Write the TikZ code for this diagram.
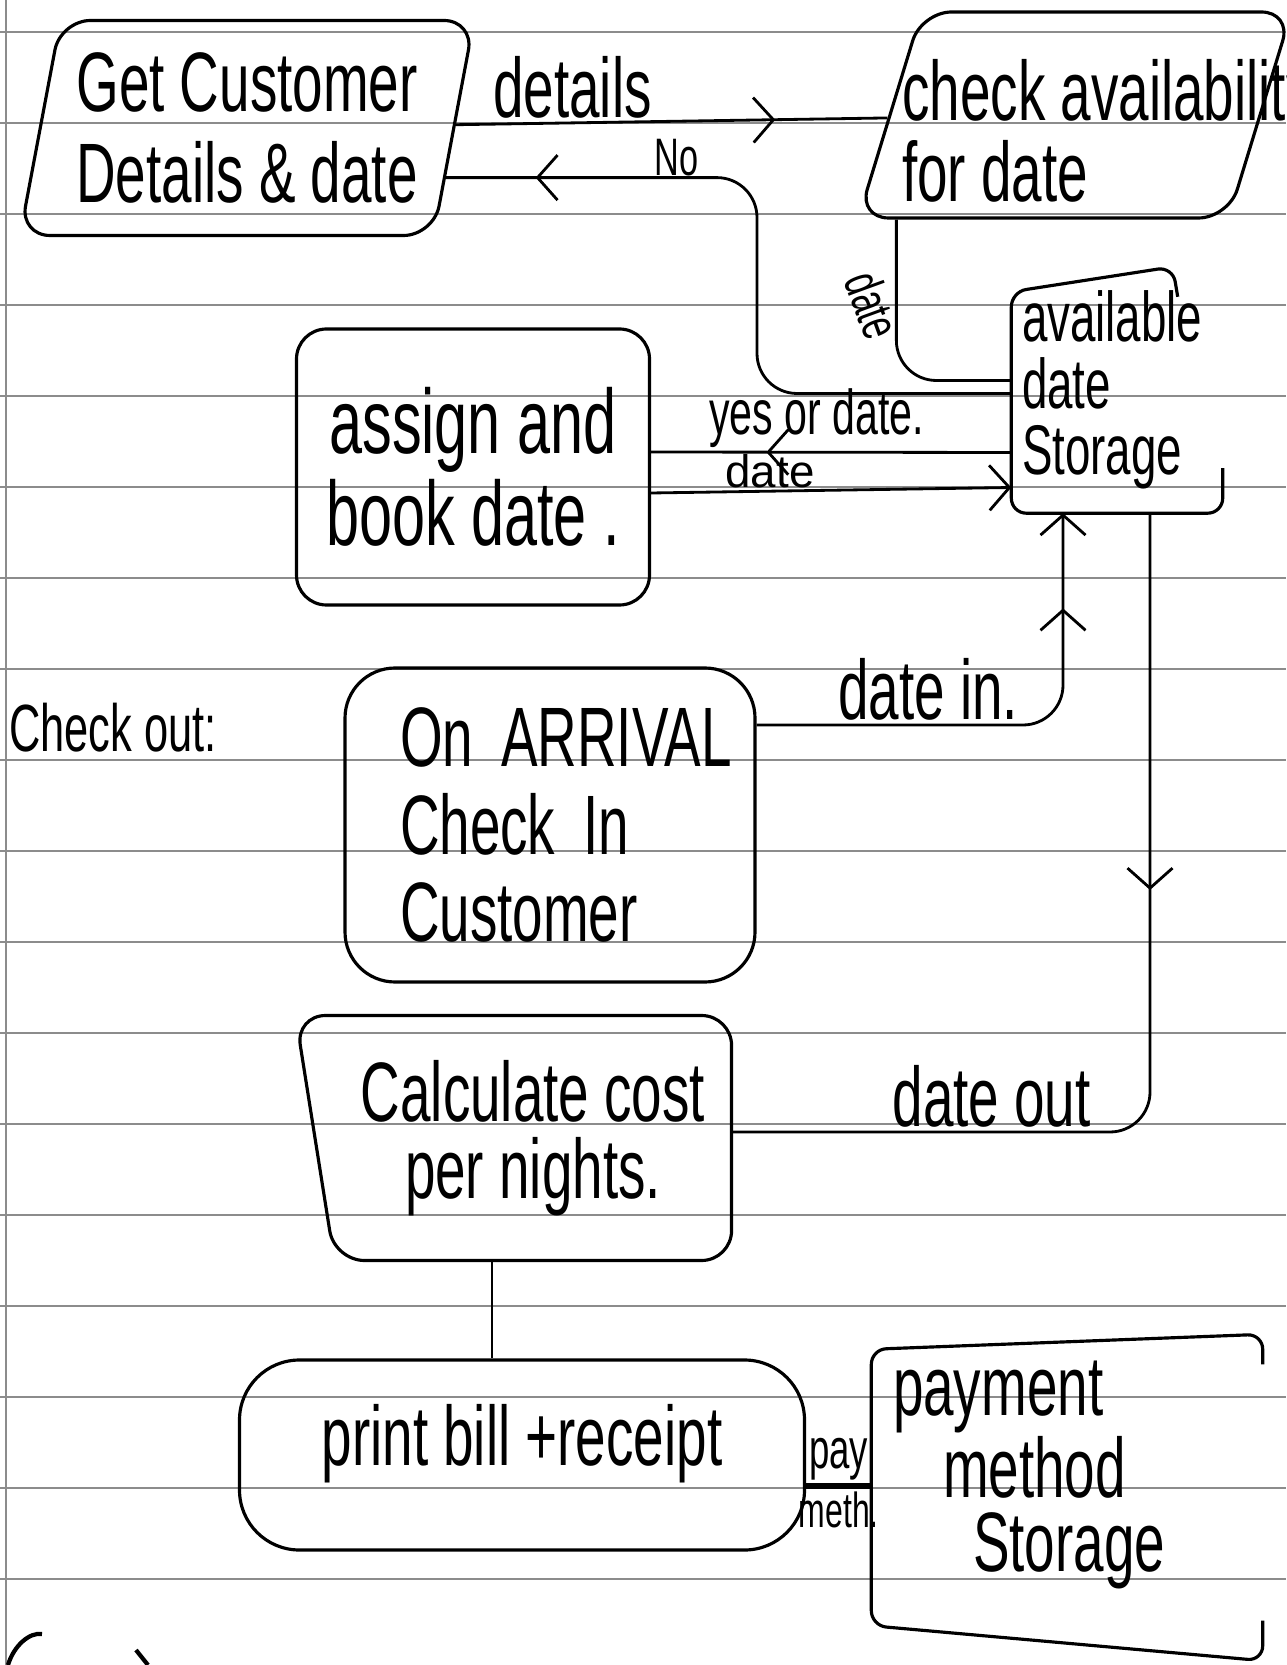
\documentclass[tikz,border=0pt]{standalone}
\usepackage{fontspec}
\newfontfamily\handfont{Liberation Sans}[FakeStretch=0.65]
\newfontfamily\widefont{Liberation Sans}
\newcommand{\handsize}[2]{\handfont\fontsize{#1}{#2}\selectfont}
\usetikzlibrary{arrows.meta,positioning,shapes.geometric,decorations.markings}

\begin{document}
\begin{tikzpicture}[
  x=0.1mm, y=-0.1mm,
  font=\handsize{24}{26},
  process/.style={draw, line width=0.9pt, rounded corners=3mm, align=center, inner sep=0pt},
  slanted/.style={process, trapezium, trapezium stretches body},
  store/.style={inner sep=0pt, align=left},
  storeline/.style={line width=0.9pt, rounded corners=1.5mm},
  flow/.style={line width=0.8pt, rounded corners=4mm},
  flowtip/.style={-{Straight Barb[length=2mm, width=4.5mm]}},
  midarrow/.style={postaction={decorate}, decoration={markings,
    mark=at position #1 with {\arrow{Straight Barb[length=2mm, width=4.5mm]}}}},
  lbl/.style={inner sep=1pt},
  ruling/.style={black!45, line width=0.4pt}
]
\useasboundingbox (0,0) rectangle (1286,1665);

% paper
\foreach \y in {32,123,...,1579}
  \draw[ruling] (0,\y) -- (1286,\y);
\draw[ruling] (6,0) -- (6,1665);

% processes
\node[slanted, trapezium left angle=75, trapezium right angle=105,
  minimum width=45.4mm, minimum height=21.5mm] (getcust) at (247,128) {Get Customer\\Details \& date};
\node[slanted, trapezium left angle=73, trapezium right angle=107, text height=20.6mm,
  minimum width=43.3mm, minimum height=20.6mm] (checkav) at (1075,115) {};
\node[lbl, anchor=west, align=left, font=\handsize{24}{23}] (checktext) at (898,131) {check availability\\for date};
\node[process, minimum width=35.3mm, minimum height=27.6mm, font=\handsize{26}{26}] (assign) at (473,467) {assign and\\book date .};
\node[process, rounded corners=5mm, minimum width=41mm, minimum height=31.4mm,
  text width=30mm, align=left, font=\handsize{24}{25}] (checkin) at (550,825) {\mbox{On ARRIVAL}\\Check In\\Customer};
\node[slanted, trapezium left angle=104, trapezium right angle=90,
  minimum width=43.6mm, minimum height=24.5mm, font=\handsize{24}{22}] (calc) at (533,1138) {Calculate cost\\per nights.};
\node[process, rounded corners=6mm, minimum width=56.5mm, minimum height=19mm,
  text depth=4mm] (print) at (522,1455) {print bill +receipt};

% stores
\node[store, minimum width=21mm, minimum height=24.5mm, text width=19mm,
  font=\handsize{20}{19}] (avail) at (1117,390) {available\\date\\Storage};
\draw[storeline] ([xshift=-4.5mm,yshift=-3mm]avail.north east) -- ([xshift=-5mm]avail.north east)
  -- ([yshift=-2.5mm]avail.north west) -- (avail.south west) -- (avail.south east)
  -- ([yshift=4.5mm]avail.south east);
\node[store, minimum width=39mm, minimum height=30mm, text width=34.8mm,
  font=\handsize{24}{21}] (pay) at (1067,1475) {payment\\\hspace*{5mm}method\\\hspace*{8mm}Storage};
\draw[storeline] ([yshift=-4mm]pay.north east) -- ([yshift=-1mm]pay.north east)
  -- ([yshift=-2.5mm]pay.north west) -- (pay.south west) -- ([yshift=-3.5mm]pay.south east)
  -- ([yshift=0.5mm]pay.south east);

\node[lbl, anchor=west, font=\handsize{19}{19}] (checkout) at (5,728) {Check out:};

% flows
\draw[flow, midarrow=0.74] (getcust) -- (checkav)
  node[lbl, above, pos=0.27] (detailslbl) {details};
\draw[flow, midarrow=0.88] ([yshift=-0.35mm]avail.west) -| (757,300) |- (getcust.-14)
  node[lbl, above, inner sep=0pt, pos=0.63, font=\handsize{15}{15}] (nolbl) {No};
\draw[flow] ([xshift=4mm]checkav.bottom left corner) |- ([yshift=0.95mm]avail.west);
\node[lbl, rotate=-70, font=\handsize{15}{15}] (datelbl) at (873,305) {date};
\draw[flow, midarrow=0.68] ([yshift=-6.25mm]avail.west) -- ([yshift=1.5mm]assign.east)
  node[lbl, above, pos=0.54, font=\handsize{18}{18}] (yeslbl) {yes or date.};
\draw[flow, flowtip] ([yshift=-2.6mm]assign.east) -- ([yshift=-9.75mm]avail.west)
  node[lbl, above, inner sep=0.5pt, pos=0.33, font=\widefont\fontsize{13}{13}\selectfont] (datebooklbl) {date};
\draw[flow, flowtip, midarrow=0.81] ([yshift=10mm]checkin.east) -| ([xshift=-5.4mm]avail.south)
  node[lbl, above, pos=0.28] (dateinlbl) {date in.};
\draw[flow, midarrow=0.37] ([xshift=3.3mm]avail.south) |- ([yshift=0.6mm]calc.east)
  node[lbl, above, pos=0.69] (dateoutlbl) {date out};
\draw[flow] ([xshift=-3mm]print.north) -- ([xshift=-3mm]print.north |- calc.south);
\draw[flow, line width=1.6pt] ([yshift=-3.1mm]print.east) -- ([yshift=-3.1mm]print.east -| pay.west)
  node[lbl, above, midway, font=\handsize{16}{16}] (paylbl) {pay}
  node[lbl, below, midway, font=\handsize{14}{14}] (methlbl) {meth.};

% start of the next note, cut off
\draw[line width=1.2pt] (8,1665) .. controls (14,1645) and (30,1632) .. (42,1634);
\draw[line width=1.2pt] (136,1650) -- (148,1665);
\end{tikzpicture}
\end{document}
